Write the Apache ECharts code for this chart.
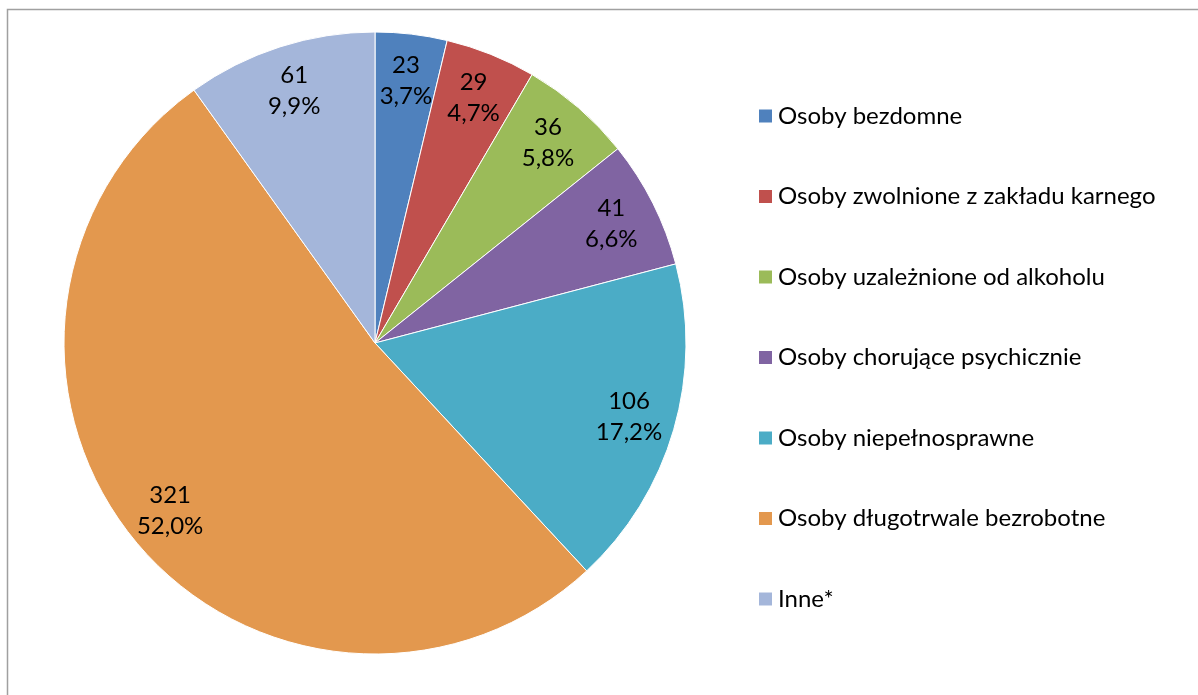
<!DOCTYPE html>
<html>
<head>
<meta charset="utf-8">
<script src="https://cdn.jsdelivr.net/npm/echarts@6/dist/echarts.min.js"></script>
<style>
  html, body { margin: 0; padding: 0; background: #fff; }
  #chart { width: 1198px; height: 695px; }
</style>
</head>
<body>
<div id="chart"></div>
<script>
// kategorie i wartości
const categories = [
  'Osoby bezdomne',
  'Osoby zwolnione z zakładu karnego',
  'Osoby uzależnione od alkoholu',
  'Osoby chorujące psychicznie',
  'Osoby niepełnosprawne',
  'Osoby długotrwale bezrobotne',
  'Inne*'
]
const values = [23, 29, 36, 41, 106, 321, 61]
const colors = ['#4F81BD', '#C0504D', '#9BBB59', '#8064A2', '#4BACC6', '#E3984E', '#A4B6DA']

const font = 'Lato, "Open Sans", sans-serif'
const center = [375, 343]

const pieData = categories.map((name, i) => ({ name: name, value: values[i] }))

const chart = echarts.init(document.getElementById('chart'))
chart.setOption({
  animation: false,
  color: colors,
  graphic: [{
    type: 'rect',
    shape: { x: 7.5, y: 9.5, width: 1220, height: 720 },
    style: { fill: 'none', stroke: '#A0A0A0', lineWidth: 1.5 },
    z: -1
  }],
  legend: {
    orient: 'vertical',
    left: 752,
    top: 97,
    icon: 'rect',
    itemWidth: 15,
    itemHeight: 15,
    itemGap: 52.5,
    data: categories,
    textStyle: { fontFamily: font, fontSize: 24, color: '#000', lineHeight: 28 }
  },
  series: [
    {
      type: 'pie',
      center: center,
      radius: [0, 311],
      startAngle: 90,
      clockwise: true,
      data: pieData,
      label: { show: false },
      labelLine: { show: false },
      itemStyle: { borderColor: '#fff', borderWidth: 1 }
    },
    {
      // tylko etykiety, ~0.84 promienia
      type: 'pie',
      center: center,
      radius: [212, 311],
      startAngle: 90,
      clockwise: true,
      silent: true,
      legendHoverLink: false,
      data: pieData,
      itemStyle: { color: 'transparent' },
      label: {
        show: true,
        position: 'inside',
        fontFamily: font,
        fontSize: 24,
        lineHeight: 31,
        color: '#000',
        formatter: p => p.value + '\n' + p.percent.toFixed(1).replace('.', ',') + '%'
      },
      labelLine: { show: false }
    }
  ]
})
</script>
</body>
</html>
